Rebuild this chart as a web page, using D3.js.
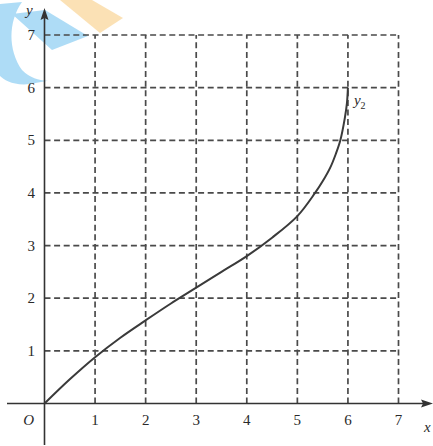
<!DOCTYPE html>
<html>
<head>
<meta charset="utf-8">
<script src="https://cdn.jsdelivr.net/npm/d3@7"></script>
<style>
  html, body { margin: 0; padding: 0; background: #fff; }
  svg { display: block; }
  text { font-family: "Liberation Serif", "DejaVu Serif", serif; fill: #2a2a2a; }
</style>
</head>
<body>
<svg id="chart" width="433" height="446"></svg>
<script>
// curve y2
const curveX = [0, 0.5, 1, 1.5, 2, 2.5, 3, 3.5, 4, 4.5, 5, 5.35, 5.5, 5.65, 5.76, 5.85, 5.94, 5.98, 6];
const curveY = [0, 0.46, 0.88, 1.25, 1.58, 1.9, 2.2, 2.5, 2.8, 3.15, 3.56, 4.0, 4.22, 4.48, 4.74, 5.0, 5.43, 5.7, 6];
const xTicks = [1, 2, 3, 4, 5, 6, 7];
const yTicks = [1, 2, 3, 4, 5, 6, 7];

const svg = d3.select("#chart");

const x = d3.scaleLinear().domain([0, 7]).range([44.5, 398.5]);
const y = d3.scaleLinear().domain([0, 7]).range([403.5, 35]);

// faint watermark in the corner
const mark = svg.append("g").attr("class", "watermark");
mark.append("path")
    .attr("d", "M60,0 L92,0 L123,18 L100,33 Z")
    .attr("fill", "#f7c878").attr("opacity", 0.55);
mark.append("path")
    .attr("d", "M12,14 L45,10 L88,36 L52,50 Z M0,4 L22,2 C8,22 8,50 22,70 C32,80 45,82 52,80 L30,84 C14,86 4,80 0,76 Z")
    .attr("fill", "#6cc0ee").attr("opacity", 0.55);

// dashed grid
const grid = svg.append("g").attr("class", "grid")
    .attr("stroke", "#4a4a4a")
    .attr("stroke-width", 1.7)
    .attr("stroke-dasharray", "6,3.6")
    .attr("fill", "none");

grid.selectAll(".gx")
    .data(xTicks)
    .join("line")
    .attr("class", "gx")
    .attr("x1", d => x(d)).attr("x2", d => x(d))
    .attr("y1", y(0)).attr("y2", y(7));

grid.selectAll(".gy")
    .data(yTicks)
    .join("line")
    .attr("class", "gy")
    .attr("x1", x(0)).attr("x2", x(7))
    .attr("y1", d => y(d)).attr("y2", d => y(d));

// axes with arrow heads
const axes = svg.append("g").attr("class", "axes")
    .attr("stroke", "#333")
    .attr("stroke-width", 1.6);

axes.append("line")
    .attr("x1", 7).attr("x2", 428)
    .attr("y1", y(0)).attr("y2", y(0));
axes.append("line")
    .attr("x1", x(0)).attr("x2", x(0))
    .attr("y1", 445).attr("y2", 14);

svg.append("path")
    .attr("d", `M433,${y(0)} L421,${y(0) - 4} L423,${y(0)} L421,${y(0) + 4} Z`)
    .attr("fill", "#333");
svg.append("path")
    .attr("d", `M${x(0)},8 L${x(0) - 4},20 L${x(0)},18 L${x(0) + 4},20 Z`)
    .attr("fill", "#333");

// tick labels
svg.append("g").selectAll("text")
    .data(xTicks)
    .join("text")
    .attr("x", d => x(d))
    .attr("y", 425)
    .attr("text-anchor", "middle")
    .attr("font-size", 15)
    .text(d => d);

svg.append("g").selectAll("text")
    .data(yTicks)
    .join("text")
    .attr("x", 35)
    .attr("y", d => y(d) + 5)
    .attr("text-anchor", "end")
    .attr("font-size", 15)
    .text(d => d);

svg.append("text")
    .attr("x", 34).attr("y", 425)
    .attr("text-anchor", "end")
    .attr("font-size", 15)
    .attr("font-style", "italic")
    .text("O");

svg.append("text")
    .attr("x", 424).attr("y", 432)
    .attr("font-size", 15)
    .attr("font-style", "italic")
    .text("x");

svg.append("text")
    .attr("x", 26).attr("y", 15)
    .attr("font-size", 15)
    .attr("font-style", "italic")
    .text("y");

// the curve
const points = curveX.map((d, i) => [d, curveY[i]]);
const line = d3.line()
    .x(d => x(d[0]))
    .y(d => y(d[1]))
    .curve(d3.curveCatmullRom.alpha(0.5));

svg.append("path")
    .datum(points)
    .attr("fill", "none")
    .attr("stroke", "#3a3a3a")
    .attr("stroke-width", 2)
    .attr("d", line);

const lbl = svg.append("text")
    .attr("x", x(6) + 6)
    .attr("y", y(5.7) + 2)
    .attr("font-size", 15)
    .attr("font-style", "italic");
lbl.append("tspan").text("y");
lbl.append("tspan")
    .attr("font-size", 10)
    .attr("font-style", "normal")
    .attr("dy", 4)
    .text("2");
</script>
</body>
</html>
